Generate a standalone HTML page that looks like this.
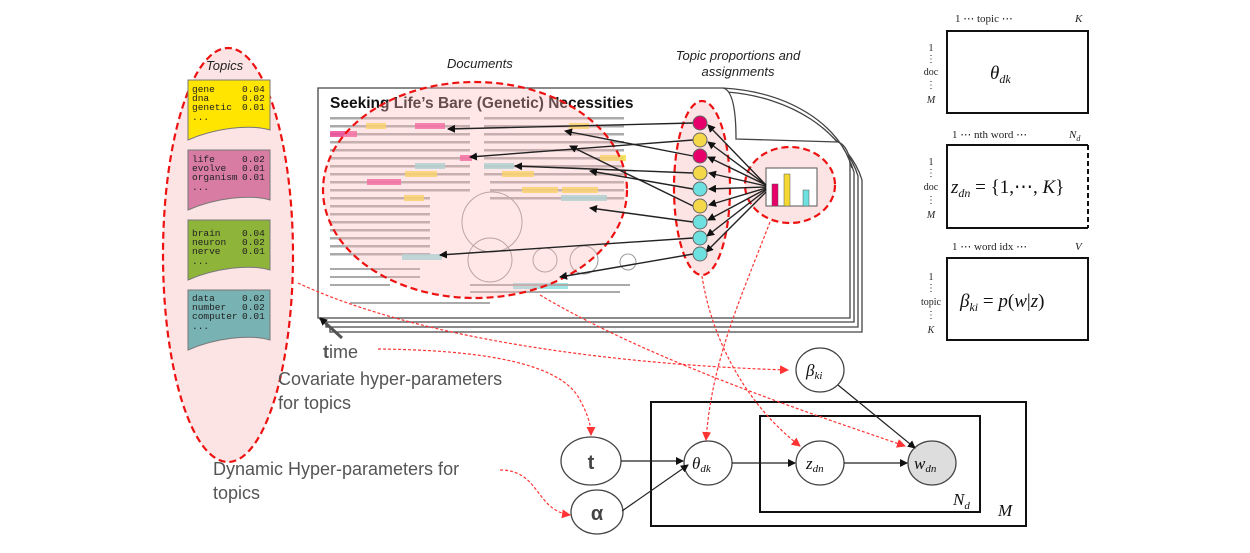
<!DOCTYPE html>
<html><head><meta charset="utf-8"><style>
body{margin:0;background:#fff}
svg{display:block}
.mono{font-family:"Liberation Mono",monospace;font-size:9.5px;fill:#222}
.it{font-family:"Liberation Sans",sans-serif;font-style:italic;font-size:13px;fill:#222}
.lab{font-family:"Liberation Sans",sans-serif;font-size:18px;fill:#555}
.ser{font-family:"Liberation Serif",serif;font-style:italic;fill:#111}
</style></head><body>
<svg width="1250" height="553" viewBox="0 0 1250 553" xmlns="http://www.w3.org/2000/svg">
<defs>
<marker id="ab" markerWidth="8" markerHeight="8" refX="7" refY="4" orient="auto" markerUnits="userSpaceOnUse"><path d="M0,0 L8,4 L0,8z" fill="#111"/></marker>
<marker id="ar" markerWidth="9" markerHeight="9" refX="8" refY="4.5" orient="auto" markerUnits="userSpaceOnUse"><path d="M0,0 L9,4.5 L0,9z" fill="#f33"/></marker>
</defs>

<!-- Topics -->
<ellipse cx="228" cy="255" rx="65" ry="207" fill="#fde4e4" stroke="#e11" stroke-width="2.2" stroke-dasharray="7,4"/>
<text x="206" y="70" class="it">Topics</text>
<g stroke="#777" stroke-width="1">
<path d="M188,80 H270 V130 C250,124 215,128 188,140 Z" fill="#ffe500"/>
<path d="M188,150 H270 V200 C250,194 215,198 188,210 Z" fill="#d87ca4"/>
<path d="M188,220 H270 V270 C250,264 215,268 188,280 Z" fill="#8fb43a"/>
<path d="M188,290 H270 V340 C250,334 215,338 188,350 Z" fill="#78b2b2"/>
</g>
<g class="mono">
<text x="192" y="92">gene</text><text x="242" y="92">0.04</text>
<text x="192" y="101">dna</text><text x="242" y="101">0.02</text>
<text x="192" y="110">genetic</text><text x="242" y="110">0.01</text><text x="192" y="120">...</text>
<text x="192" y="162">life</text><text x="242" y="162">0.02</text>
<text x="192" y="171">evolve</text><text x="242" y="171">0.01</text>
<text x="192" y="180">organism</text><text x="242" y="180">0.01</text><text x="192" y="190">...</text>
<text x="192" y="236">brain</text><text x="242" y="236">0.04</text>
<text x="192" y="245">neuron</text><text x="242" y="245">0.02</text>
<text x="192" y="254">nerve</text><text x="242" y="254">0.01</text><text x="192" y="264">...</text>
<text x="192" y="301">data</text><text x="242" y="301">0.02</text>
<text x="192" y="310">number</text><text x="242" y="310">0.02</text>
<text x="192" y="319">computer</text><text x="242" y="319">0.01</text><text x="192" y="329">...</text>
</g>

<!-- Documents stack -->
<text x="447" y="68" class="it">Documents</text>
<text x="738" y="60" class="it" text-anchor="middle">Topic proportions and</text>
<text x="738" y="76" class="it" text-anchor="middle">assignments</text>
<g fill="#fff" stroke="#444" stroke-width="1.3">
<path d="M330,100 H735 C800,105 850,140 862,180 V332 H330 Z"/>
<path d="M326,96 H731 C796,101 846,136 858,176 V327 H326 Z"/>
<path d="M322,92 H727 C792,97 842,132 854,172 V322 H322 Z"/>
<path d="M318,88 H723 C733,90 736,112 736,139 L838,142 C846,145 850,155 850,165 V318 H318 Z"/>
<path d="M723,88 C790,92 840,125 852,168" fill="none"/>
</g>
<text x="330" y="108" font-family="Liberation Sans,sans-serif" font-weight="bold" font-size="15.5" fill="#111">Seeking Life’s Bare (Genetic) Necessities</text>
<g fill="#aaa">
<rect x="330" y="117" width="140" height="2.5"/><rect x="330" y="125" width="140" height="2.5"/><rect x="330" y="133" width="140" height="2.5"/>
<rect x="330" y="141" width="140" height="2.5"/><rect x="330" y="149" width="140" height="2.5"/><rect x="330" y="157" width="140" height="2.5"/>
<rect x="330" y="165" width="140" height="2.5"/><rect x="330" y="173" width="140" height="2.5"/><rect x="330" y="181" width="140" height="2.5"/>
<rect x="330" y="189" width="140" height="2.5"/><rect x="330" y="197" width="100" height="2.5"/><rect x="330" y="205" width="100" height="2.5"/>
<rect x="330" y="213" width="100" height="2.5"/><rect x="330" y="221" width="100" height="2.5"/><rect x="330" y="229" width="100" height="2.5"/>
<rect x="330" y="237" width="100" height="2.5"/><rect x="330" y="245" width="100" height="2.5"/><rect x="330" y="253" width="100" height="2.5"/>
<rect x="484" y="117" width="140" height="2.5"/><rect x="484" y="125" width="140" height="2.5"/><rect x="484" y="133" width="140" height="2.5"/>
<rect x="484" y="141" width="140" height="2.5"/><rect x="484" y="149" width="140" height="2.5"/><rect x="484" y="157" width="140" height="2.5"/>
<rect x="484" y="165" width="140" height="2.5"/><rect x="484" y="173" width="140" height="2.5"/><rect x="490" y="181" width="134" height="2.5"/>
<rect x="490" y="189" width="134" height="2.5"/><rect x="490" y="197" width="134" height="2.5"/>
</g>
<g opacity="0.85">
<rect x="366" y="123" width="20" height="6" fill="#f7e04a"/><rect x="415" y="123" width="30" height="6" fill="#ef4b9a"/>
<rect x="330" y="131" width="27" height="6" fill="#ef4b9a"/><rect x="460" y="155" width="12" height="6" fill="#ef4b9a"/>
<rect x="415" y="163" width="30" height="6" fill="#8de0e0"/><rect x="405" y="171" width="32" height="6" fill="#f7e04a"/>
<rect x="367" y="179" width="34" height="6" fill="#ef4b9a"/><rect x="404" y="195" width="20" height="6" fill="#f7e04a"/>
<rect x="402" y="254" width="40" height="6" fill="#8de0e0"/>
<rect x="569" y="123" width="20" height="6" fill="#f7e04a"/><rect x="600" y="155" width="26" height="6" fill="#f7e04a"/>
<rect x="484" y="163" width="30" height="6" fill="#8de0e0"/><rect x="502" y="171" width="32" height="6" fill="#f7e04a"/>
<rect x="522" y="187" width="36" height="6" fill="#f7e04a"/><rect x="562" y="187" width="36" height="6" fill="#f7e04a"/>
<rect x="561" y="195" width="46" height="6" fill="#8de0e0"/><rect x="513" y="283" width="55" height="6" fill="#8de0e0"/>
</g>
<g fill="none" stroke="#999"><circle cx="492" cy="222" r="30"/><circle cx="490" cy="260" r="22"/><circle cx="545" cy="260" r="12"/><circle cx="584" cy="260" r="14"/><circle cx="628" cy="262" r="8"/></g>
<g fill="#aaa"><rect x="330" y="268" width="90" height="2"/><rect x="330" y="276" width="90" height="2"/><rect x="330" y="284" width="60" height="2"/><rect x="470" y="284" width="160" height="2"/><rect x="470" y="291" width="150" height="2"/><rect x="350" y="302" width="140" height="2"/></g>

<ellipse cx="475" cy="190" rx="152" ry="108" fill="#fbb" fill-opacity="0.35" stroke="#e11" stroke-width="2.2" stroke-dasharray="7,4"/>

<!-- assignment ellipse -->
<ellipse cx="702" cy="188" rx="28" ry="87" fill="#fde4e4" stroke="#e11" stroke-width="2.2" stroke-dasharray="7,4"/>
<ellipse cx="790" cy="185" rx="45" ry="38" fill="#fde4e4" stroke="#e11" stroke-width="2.2" stroke-dasharray="7,4"/>
<rect x="766" y="168" width="51" height="38" fill="#fff" stroke="#555"/>
<rect x="772" y="184" width="6" height="22" fill="#e8006a" stroke="#555" stroke-width=".5"/>
<rect x="784" y="174" width="6" height="32" fill="#f5d833" stroke="#555" stroke-width=".5"/>
<rect x="803" y="190" width="6" height="16" fill="#6ee0e0" stroke="#555" stroke-width=".5"/>
<g stroke="#222" stroke-width="1.4" marker-end="url(#ab)">
<line x1="766" y1="185" x2="708" y2="125"/><line x1="766" y1="185" x2="708" y2="142"/><line x1="766" y1="185" x2="708" y2="157"/>
<line x1="766" y1="186" x2="709" y2="173"/><line x1="766" y1="187" x2="709" y2="189"/><line x1="766" y1="188" x2="709" y2="205"/>
<line x1="766" y1="189" x2="708" y2="220"/><line x1="766" y1="190" x2="707" y2="236"/><line x1="766" y1="192" x2="706" y2="252"/>
<line x1="693" y1="123" x2="448" y2="129"/><line x1="693" y1="140" x2="470" y2="157"/><line x1="693" y1="156" x2="565" y2="131"/>
<line x1="693" y1="173" x2="515" y2="166"/><line x1="693" y1="189" x2="590" y2="171"/><line x1="693" y1="206" x2="570" y2="146"/>
<line x1="693" y1="222" x2="590" y2="208"/><line x1="693" y1="238" x2="440" y2="255"/><line x1="693" y1="254" x2="560" y2="277"/>
</g>
<g stroke="#666" stroke-width="1">
<circle cx="700" cy="123" r="7" fill="#e8006a"/><circle cx="700" cy="140" r="7" fill="#f5d84a"/><circle cx="700" cy="156" r="7" fill="#e8006a"/>
<circle cx="700" cy="173" r="7" fill="#f5d84a"/><circle cx="700" cy="189" r="7" fill="#6ee0e0"/><circle cx="700" cy="206" r="7" fill="#f5d84a"/>
<circle cx="700" cy="222" r="7" fill="#6ee0e0"/><circle cx="700" cy="238" r="7" fill="#6ee0e0"/><circle cx="700" cy="254" r="7" fill="#6ee0e0"/>
</g>

<!-- time arrow & labels -->
<line x1="342" y1="338" x2="320" y2="318" stroke="#555" stroke-width="3" marker-end="url(#ab)"/>
<text x="323" y="358" class="lab"><tspan font-weight="bold">t</tspan>ime</text>
<text x="278" y="385" class="lab">Covariate hyper-parameters</text>
<text x="278" y="409" class="lab">for topics</text>
<text x="213" y="475" class="lab">Dynamic Hyper-parameters for</text>
<text x="213" y="499" class="lab">topics</text>

<!-- matrices -->
<g font-family="Liberation Serif,serif" font-size="11" fill="#222">
<text x="955" y="22">1   ⋯  topic  ⋯</text><text x="1075" y="22" font-style="italic">K</text>
<text x="952" y="138">1 ⋯ nth word ⋯</text><text x="1069" y="138" font-style="italic">N<tspan font-size="8" dy="3">d</tspan></text>
<text x="952" y="250">1 ⋯  word idx ⋯</text><text x="1075" y="250" font-style="italic">V</text>
<g text-anchor="middle" font-size="10">
<text x="931" y="51">1</text><text x="931" y="62">⋮</text><text x="931" y="75">doc</text><text x="931" y="88">⋮</text><text x="931" y="103" font-style="italic">M</text>
<text x="931" y="165">1</text><text x="931" y="176">⋮</text><text x="931" y="190">doc</text><text x="931" y="203">⋮</text><text x="931" y="218" font-style="italic">M</text>
<text x="931" y="280">1</text><text x="931" y="291">⋮</text><text x="931" y="305">topic</text><text x="931" y="318">⋮</text><text x="931" y="333" font-style="italic">K</text>
</g></g>
<g fill="#fff" stroke="#111" stroke-width="2">
<rect x="947" y="31" width="141" height="82"/>
<path d="M1088,145 H947 V228 H1088"/>
<rect x="947" y="258" width="141" height="82"/>
</g>
<line x1="1088" y1="145" x2="1088" y2="228" stroke="#111" stroke-width="2" stroke-dasharray="5,3"/>
<text x="990" y="79" class="ser" font-size="19">θ<tspan font-size="12" dy="4">dk</tspan></text>
<text x="951" y="193" class="ser" font-size="19">z<tspan font-size="12" dy="4">dn</tspan><tspan dy="-4" font-style="normal"> = {1,⋯, </tspan>K<tspan font-style="normal">}</tspan></text>
<text x="960" y="307" class="ser" font-size="19">β<tspan font-size="12" dy="4">ki</tspan><tspan dy="-4" font-style="normal"> = </tspan>p<tspan font-style="normal">(</tspan>w<tspan font-style="normal">|</tspan>z<tspan font-style="normal">)</tspan></text>

<!-- plates -->
<rect x="651" y="402" width="375" height="124" fill="none" stroke="#111" stroke-width="2"/>
<rect x="760" y="416" width="220" height="96" fill="none" stroke="#111" stroke-width="2"/>
<text x="953" y="505" class="ser" font-size="17">N<tspan font-size="11" dy="4">d</tspan></text>
<text x="998" y="516" class="ser" font-size="17">M</text>

<!-- red dashed -->
<g fill="none" stroke="#f33" stroke-width="1.2" stroke-dasharray="3,2" marker-end="url(#ar)">
<path d="M298,283 C420,340 620,365 788,370"/>
<path d="M378,349 C470,350 560,360 580,400 C588,415 591,425 591,435"/>
<path d="M540,295 C650,360 800,410 905,446"/>
<path d="M770,222 C740,300 712,360 706,440"/>
<path d="M702,276 C710,330 740,400 800,446"/>
<path d="M500,470 C540,470 535,510 570,515"/>
</g>

<!-- nodes -->
<g stroke="#444" stroke-width="1.3" fill="#fff">
<ellipse cx="820" cy="370" rx="24" ry="22"/>
<ellipse cx="708" cy="463" rx="24" ry="22"/>
<ellipse cx="820" cy="463" rx="24" ry="22"/>
<ellipse cx="932" cy="463" rx="24" ry="22" fill="#ddd"/>
<ellipse cx="591" cy="461" rx="30" ry="24"/>
<ellipse cx="597" cy="512" rx="26" ry="22"/>
</g>
<g stroke="#222" stroke-width="1.2" marker-end="url(#ab)">
<line x1="621" y1="461" x2="683" y2="461"/>
<line x1="622" y1="511" x2="688" y2="465"/>
<line x1="732" y1="463" x2="795" y2="463"/>
<line x1="844" y1="463" x2="907" y2="463"/>
<line x1="838" y1="385" x2="915" y2="448"/>
</g>
<text x="806" y="376" class="ser" font-size="17">β<tspan font-size="11" dy="3">ki</tspan></text>
<text x="692" y="469" class="ser" font-size="17">θ<tspan font-size="11" dy="3">dk</tspan></text>
<text x="806" y="469" class="ser" font-size="17">z<tspan font-size="11" dy="3">dn</tspan></text>
<text x="914" y="469" class="ser" font-size="17">w<tspan font-size="11" dy="3">dn</tspan></text>
<text x="591" y="469" font-family="Liberation Sans,sans-serif" font-weight="bold" font-size="20" fill="#444" text-anchor="middle">t</text>
<text x="597" y="520" font-family="Liberation Sans,sans-serif" font-weight="bold" font-size="20" fill="#444" text-anchor="middle">α</text>
</svg>
</body></html>
